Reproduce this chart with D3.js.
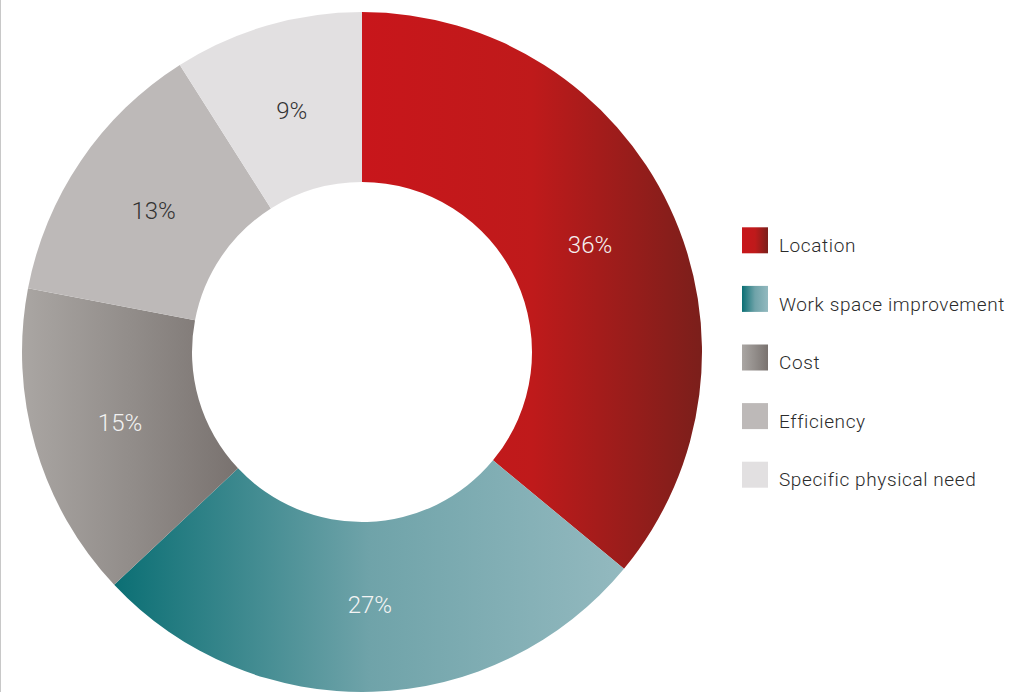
<!DOCTYPE html>
<html>
<head>
<meta charset="utf-8">
<script src="https://cdn.jsdelivr.net/npm/d3@7"></script>
<style>
  body { margin: 0; background: #fff; }
  svg { display: block; }
  .pct { font-family: Roboto, "Open Sans", sans-serif; font-weight: 300; font-size: 24px; }
  .legend text { font-family: Roboto, "Open Sans", sans-serif; font-weight: 300; font-size: 19px; fill: #2b2b2b; letter-spacing: 0.6px; }
</style>
</head>
<body>
<script>
// data
let categories = ["Location", "Work space improvement", "Cost", "Efficiency", "Specific physical need"];
let shares = [36, 27, 15, 13, 9];
let labels = ["36%", "27%", "15%", "13%", "9%"];

// colour stops per slice (left -> mid -> right)
let fills = [
  ["#c8161b", "#bf1a1b", "#7b1f1b"],
  ["#0b6f74", "#6fa3a9", "#93b9bf"],
  ["#aaa6a3", "#928d8a", "#79726f"],
  ["#bdb9b8", "#bdb9b8", "#bdb9b8"],
  ["#e2e0e1", "#e2e0e1", "#e2e0e1"]
];
let midStops = ["50%", "50%", "50%", "50%", "50%"];
let textColors = ["#f4f0f0", "#f4f4f4", "#f2f2f2", "#333", "#333"];

let width = 1035, height = 692;
let cx = 362, cy = 352, outerR = 340, innerR = 170;
let svg = null;

appendSvg("body");
appendGradients();
appendDonut();
appendLegend();

function appendSvg(domElement) {
  svg = d3.select(domElement).append("svg")
    .attr("width", width)
    .attr("height", height);

  // thin page edge on the left
  svg.append("line")
    .attr("x1", 0.5).attr("x2", 0.5)
    .attr("y1", 0).attr("y2", height)
    .attr("stroke", "#c8c8c8")
    .attr("stroke-width", 1);
}

function appendGradients() {
  let defs = svg.append("defs");
  fills.forEach(function(f, i) {
    let g = defs.append("linearGradient")
      .attr("id", "grad" + i)
      .attr("x1", "0%").attr("x2", "100%")
      .attr("y1", "0%").attr("y2", "0%");
    g.append("stop").attr("offset", "0%").attr("stop-color", f[0]);
    g.append("stop").attr("offset", midStops[i]).attr("stop-color", f[1]);
    g.append("stop").attr("offset", "100%").attr("stop-color", f[2]);
  });
}

function appendDonut() {
  let pie = d3.pie().sort(null).value(function(d) { return d; });
  let arc = d3.arc().innerRadius(innerR).outerRadius(outerR);
  let labelArc = d3.arc().innerRadius(252).outerRadius(252);

  let g = svg.append("g")
    .attr("transform", `translate(${cx}, ${cy})`);

  let slices = g.selectAll("g.slice")
    .data(pie(shares))
    .enter().append("g")
    .attr("class", "slice");

  slices.append("path")
    .attr("d", arc)
    .attr("fill", function(d, i) { return "url(#grad" + i + ")"; });

  slices.append("text")
    .attr("class", "pct")
    .attr("transform", function(d) { return "translate(" + labelArc.centroid(d) + ")"; })
    .attr("text-anchor", "middle")
    .attr("dy", "0.36em")
    .attr("fill", function(d, i) { return textColors[i]; })
    .text(function(d, i) { return labels[i]; });
}

function appendLegend() {
  let y = d3.scaleBand()
    .domain(categories)
    .range([211, 504]);

  let legend = svg.append("g").attr("class", "legend");

  let rows = legend.selectAll("g")
    .data(categories)
    .enter().append("g")
    .attr("transform", function(d) { return `translate(742, ${y(d) + y.bandwidth() / 2})`; });

  rows.append("rect")
    .attr("x", 0)
    .attr("y", -13)
    .attr("width", 26)
    .attr("height", 26)
    .attr("fill", function(d, i) { return "url(#grad" + i + ")"; });

  rows.append("text")
    .attr("x", 37)
    .attr("y", 5)
    .attr("dy", "0.35em")
    .text(function(d) { return d; });
}
</script>
</body>
</html>
